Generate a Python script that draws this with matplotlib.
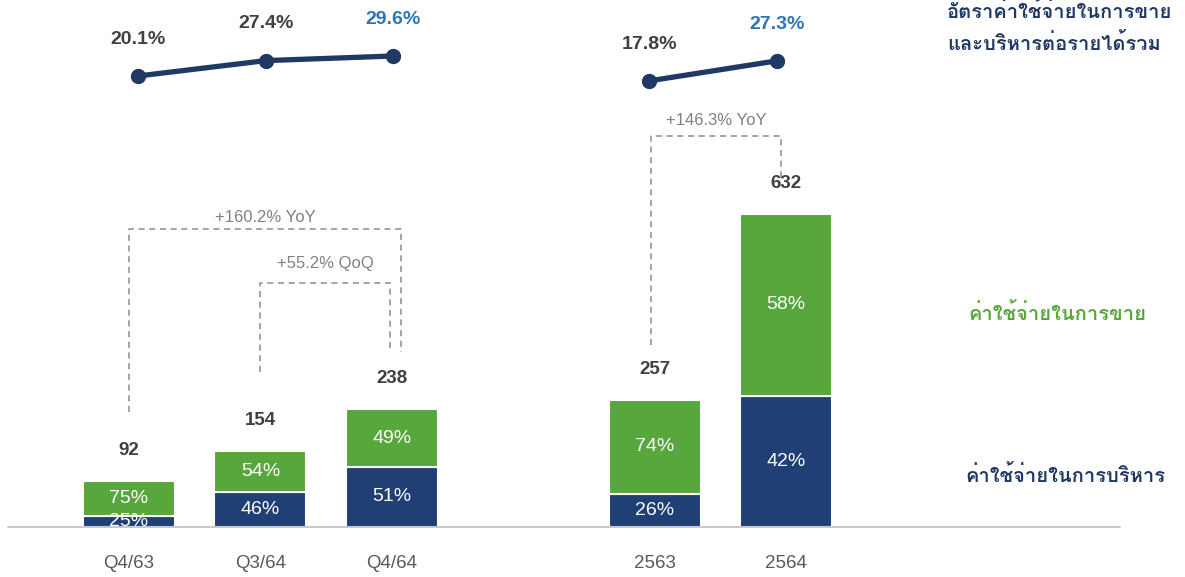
import numpy as np
import matplotlib
matplotlib.use('Agg')
import matplotlib.pyplot as plt
from matplotlib import font_manager, ft2font

# data
periods = ['Q4/63', 'Q3/64', 'Q4/64', '2563', '2564']
x_pos = [0, 1, 2, 4, 5]
totals = [92, 154, 238, 257, 632]
admin_pct = [25, 46, 51, 26, 42]
selling_pct = [75, 54, 49, 74, 58]
ratio = [20.1, 27.4, 29.6, 17.8, 27.3]
ratio_highlight = [False, False, True, False, True]
change_labels = ['+160.2% YoY', '+55.2% QoQ', '+146.3% YoY']

# colours
BLUE = '#1f3f75'
GREEN = '#58a73c'
NAVY = '#203864'
HILITE = '#2e75b6'
DARK = '#404040'
GREY = '#595959'
DASH = '#8c8c8c'


def thai_family():
    for f in font_manager.fontManager.ttflist:
        try:
            cmap = ft2font.FT2Font(f.fname).get_charmap()
        except Exception:
            continue
        if 0x0E01 in cmap:
            return f.name
    return 'DejaVu Sans'


plt.rcParams['font.family'] = ['Liberation Sans', 'DejaVu Sans']
THAI = [thai_family(), 'DejaVu Sans']

W, H = 1185, 577
fig = plt.figure(figsize=(W / 100, H / 100), dpi=100)
ax = fig.add_axes([8 / W, 50 / H, 1112 / W, 527 / H])
ax.set_xlim(-0.92, 7.54)
ax.set_ylim(0, 1064.6)

totals_a = np.array(totals, dtype=float)
admin = totals_a * np.array(admin_pct) / 100
selling = totals_a - admin

ax.bar(x_pos, admin, width=0.7, color=BLUE, edgecolor='white', linewidth=1.5, zorder=2)
ax.bar(x_pos, selling, width=0.7, bottom=admin, color=GREEN, edgecolor='white',
       linewidth=1.5, zorder=2)

for x, a, s, pa, ps, t in zip(x_pos, admin, selling, admin_pct, selling_pct, totals):
    ax.text(x, a / 2, f'{pa}%', ha='center', va='center', color='white',
            fontsize=14, clip_on=True, zorder=3)
    ax.text(x, a + s / 2, f'{ps}%', ha='center', va='center', color='white',
            fontsize=14, clip_on=True, zorder=3)
    ax.annotate(str(t), (x, t), xytext=(0, 22), textcoords='offset points',
                ha='center', va='center', fontsize=13.5, fontweight='bold', color=DARK)

# dashed change brackets: (left x, right x, top, left end, right end, label offset px)
brackets = [
    (0.0, 2.07, 602, 232, 354, 11),
    (1.0, 1.985, 493, 313, 358, 19),
    (3.97, 4.96, 790, 368, 701, 15),
]
for (x0, x1, top, lb, rb, off), lab in zip(brackets, change_labels):
    ax.plot([x0, x0, x1, x1], [lb, top, top, rb], color=DASH, lw=1.1,
            ls=(0, (4, 3)), zorder=1)
    ax.annotate(lab, ((x0 + x1) / 2, top), xytext=(0, off * 0.72),
                textcoords='offset points', ha='center', va='center',
                fontsize=12, color='#808080')

for sp in ['top', 'right', 'left']:
    ax.spines[sp].set_visible(False)
ax.spines['bottom'].set_color('#bfbfbf')
ax.spines['bottom'].set_linewidth(1.2)
ax.set_yticks([])
ax.set_xticks(x_pos)
ax.set_xticklabels(periods, fontsize=13.5, color=GREY)
ax.tick_params(axis='x', length=0, pad=20)

# ratio line on its own scale, points sit slightly off the bar centres
line_shift = [0.07, 0.04, 0.01, -0.04, -0.07]
line_x = [x + d for x, d in zip(x_pos, line_shift)]
ax2 = ax.twinx()
ax2.set_ylim(-194.15, 56.2)
ax2.axis('off')
for seg in ([0, 1, 2], [3, 4]):
    ax2.plot([line_x[i] for i in seg], [ratio[i] for i in seg], color=NAVY, lw=3.8,
             marker='o', markersize=10, solid_capstyle='round')
for x, r, hl in zip(line_x, ratio, ratio_highlight):
    ax2.annotate(f'{r:.1f}%', (x, r), xytext=(0, 26.5), textcoords='offset points',
                 ha='center', va='center', fontsize=14, fontweight='bold',
                 color=HILITE if hl else DARK)

# right side labels
fig.text(947 / W, 1 - 12 / H, 'อัตราค่าใช้จ่ายในการขาย', family=THAI, fontsize=14.5,
         fontweight='bold', color=NAVY, ha='left', va='center')
fig.text(947 / W, 1 - 44 / H, 'และบริหารต่อรายได้รวม', family=THAI, fontsize=14.5,
         fontweight='bold', color=NAVY, ha='left', va='center')
fig.text(968 / W, 1 - 314 / H, 'ค่าใช้จ่ายในการขาย', family=THAI, fontsize=14.5,
         fontweight='bold', color=GREEN, ha='left', va='center')
fig.text(965 / W, 1 - 476 / H, 'ค่าใช้จ่ายในการบริหาร', family=THAI, fontsize=14.5,
         fontweight='bold', color=NAVY, ha='left', va='center')

fig.savefig('out.png', dpi=100)
